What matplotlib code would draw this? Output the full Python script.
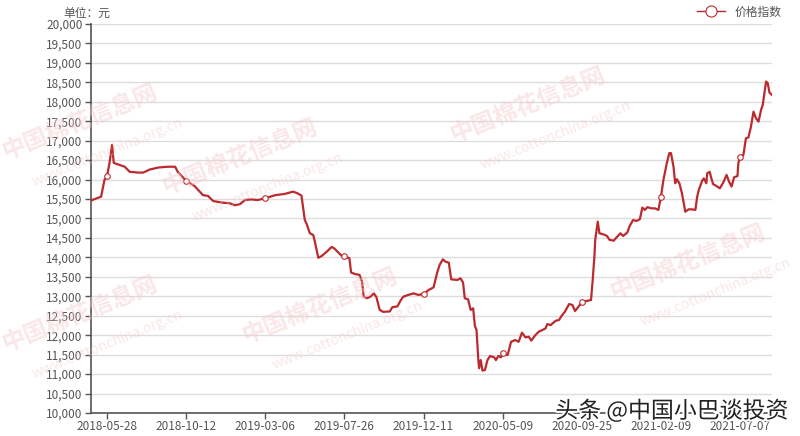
import matplotlib
matplotlib.use("Agg")
import matplotlib.pyplot as plt
import matplotlib.patheffects as pe

plt.rcParams['font.family'] = ['Noto Sans CJK SC', 'DejaVu Sans']

# 交易日序号与价格指数（元）
day_idx = [0, 2, 12, 16, 19, 22, 25, 27, 32, 40, 46, 56, 62, 70, 80, 91, 100, 103,
           113, 123, 133, 139, 145, 155, 165, 171, 177, 183, 190, 198, 207,
           219, 230, 240, 245, 250, 254, 256, 260, 264, 266, 270, 274, 280, 286,
           289, 293, 298, 301, 307, 309, 314, 319, 322, 324, 328, 332, 336, 339,
           341, 343, 347, 355, 358, 364, 368, 371, 377, 383, 389, 395, 401, 407,
           411, 414, 418, 421, 425, 428, 435, 439, 442, 444, 448, 451, 454, 456,
           458, 460, 461, 463, 465, 468, 471, 474, 479, 481, 484, 487, 489, 495,
           499, 504, 508, 512, 516, 520, 523, 528, 532, 536, 540, 542, 546, 552,
           556, 559, 563, 568, 572, 575, 579, 583, 589, 594, 596, 598, 599, 602,
           604, 609, 613, 616, 621, 625, 629, 632, 637, 640, 644, 648, 652, 655,
           658, 661, 666, 670, 674, 677, 680, 684, 687, 689, 692, 694, 696, 699,
           702, 706, 710, 714, 718, 720, 722, 726, 728, 731, 732, 735, 737, 739,
           743, 747, 751, 755, 758, 761, 764, 768, 769, 771, 775, 778, 781, 784,
           787, 790, 793, 796, 798, 800, 802, 804, 806, 809]
price = [15450, 15480, 15560, 15990, 16080, 16430, 16890, 16430, 16390, 16330,
         16200, 16180, 16180, 16260, 16310, 16330, 16330, 16200,
         15970, 15835, 15600, 15580, 15450, 15410, 15390, 15340, 15370, 15475,
         15490, 15475, 15520,
         15600, 15630, 15690, 15650, 15590, 14960, 14870, 14620, 14575, 14400,
         13990, 14035, 14145, 14270, 14230, 14145, 14035, 14035, 13975, 13610,
         13570, 13550, 13375, 12990, 12950, 12990, 13075, 12980, 12820, 12650,
         12600, 12610, 12720, 12740, 12900, 12990, 13035, 13075, 13035, 13060,
         13160, 13230,
         13590, 13800, 13950, 13890, 13865, 13435, 13420, 13460, 13350, 12950,
         12920, 12650, 12690, 12240, 12130, 11405, 11150, 11360, 11090, 11105,
         11360, 11465, 11430, 11360, 11465, 11430, 11530, 11490, 11830, 11875,
         11830, 12065, 11945, 11960, 11860, 12005, 12090, 12130, 12175, 12285,
         12260, 12370, 12390, 12495, 12605, 12800, 12775, 12620, 12730, 12845,
         12880, 12905, 13420, 14020, 14450, 14920, 14620, 14590, 14550, 14450,
         14430, 14530, 14620, 14550, 14635, 14810, 14960, 14935, 14980, 15280,
         15220, 15290, 15260, 15260, 15220, 15545, 15990, 16420, 16680, 16680,
         16330, 15905, 16010, 15905, 15650, 15175, 15235, 15235, 15220, 15545,
         15730, 15970, 16030, 15905, 16160, 16200, 16030, 15885, 15835, 15775,
         15920, 16120, 15945, 15820, 16060, 16090, 16420, 16590, 16630, 17060,
         17085, 17360, 17745, 17575, 17490, 17790, 17920, 18220, 18520, 18475,
         18235, 18175]

tick_idx = [19, 113, 207, 301, 395, 489, 583, 677, 771]
tick_labels = ['2018-05-28', '2018-10-12', '2019-03-06', '2019-07-26', '2019-12-11',
               '2020-05-09', '2020-09-25', '2021-02-09', '2021-07-07']
y_ticks = list(range(10000, 20001, 500))

line_color = '#bb2a2e'
text_color = '#555555'

fig = plt.figure(figsize=(8, 4.36), dpi=100)
ax = fig.add_axes([0.11375, 0.0528, 0.85125, 0.8922])

# 背景水印（淡色）
wm_color = '#f6caca'
for (wx, wy) in [(0.10, 0.72), (0.30, 0.64), (0.66, 0.76), (0.40, 0.30),
                 (0.86, 0.40), (0.10, 0.28)]:
    fig.text(wx, wy, '中国棉花信息网', fontsize=17, color=wm_color, rotation=22,
             ha='center', va='center', fontweight='bold', alpha=0.45, zorder=0)
    fig.text(wx + 0.035, wy - 0.07, 'www.cottonchina.org.cn', fontsize=10,
             color=wm_color, rotation=22, ha='center', va='center', alpha=0.45, zorder=0)

markers = [day_idx.index(t) for t in tick_idx]
ax.plot(day_idx, price, color=line_color, linewidth=1.6, marker='o', markersize=4,
        markerfacecolor='white', markeredgecolor=line_color, markeredgewidth=0.8,
        markevery=markers, label='价格指数', zorder=3)

ax.set_xlim(0, 809)
ax.set_ylim(10000, 20000)
ax.set_yticks(y_ticks)
ax.set_yticklabels([f'{v:,}' for v in y_ticks])
ax.set_xticks(tick_idx)
ax.set_xticklabels(tick_labels)
ax.tick_params(axis='both', labelsize=8.5, colors=text_color, length=4, width=1,
               direction='out')
ax.tick_params(axis='x', pad=1)
ax.tick_params(axis='y', pad=2)
ax.grid(axis='y', color='#dddddd', linewidth=1)
ax.set_axisbelow(True)
ax.patch.set_alpha(0)
for s in ['top', 'right']:
    ax.spines[s].set_visible(False)
for s in ['left', 'bottom']:
    ax.spines[s].set_color('#555555')
    ax.spines[s].set_linewidth(1.2)

fig.text(0.109, 0.985, '单位：元', fontsize=8.5, color=text_color, ha='center', va='top')

leg = ax.legend(loc='upper right', bbox_to_anchor=(1.03, 1.075), frameon=False,
                fontsize=8.5, handlelength=2.4, numpoints=1, markerscale=2.0,
                labelcolor=text_color)
for h in leg.legend_handles:
    h.set_linewidth(1.0)

fig.text(0.985, 0.03, '头条 @中国小巴谈投资', fontsize=16.5, color='#222222', ha='right',
         va='bottom', path_effects=[pe.withStroke(linewidth=3, foreground='white')],
         zorder=10)

fig.savefig('out.png', dpi=100)
